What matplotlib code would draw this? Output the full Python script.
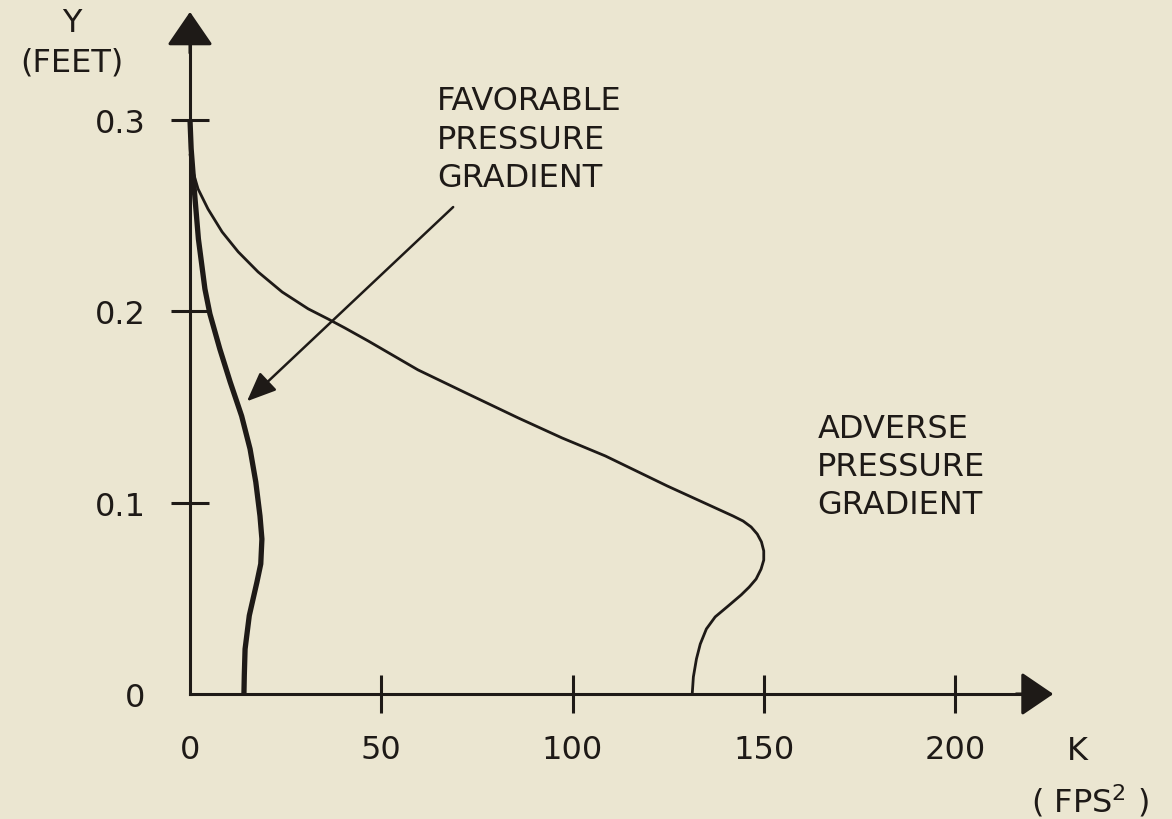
import matplotlib.pyplot as plt

# K (ft/s^2) against height above the wall Y (ft)
y_fav = [0.300, 0.285, 0.264, 0.2378, 0.2117, 0.1987, 0.1803, 0.1631, 0.1453,
         0.1281, 0.1108, 0.093, 0.081, 0.068, 0.0585, 0.041, 0.0235, 0.010, 0.0]
k_fav = [0.0, 0.3, 1.1, 2.2, 3.9, 5.2, 7.8, 10.5, 13.5,
         15.7, 17.2, 18.3, 18.8, 18.5, 17.5, 15.5, 14.4, 14.2, 14.1]

y_adv = [0.282, 0.2729, 0.264, 0.2535, 0.2415, 0.2311, 0.2206, 0.2101, 0.2013,
         0.196, 0.1913, 0.1845, 0.1694, 0.1568, 0.1443, 0.1338, 0.1244, 0.1087,
         0.0930, 0.0904, 0.0873, 0.0836, 0.0795, 0.0748, 0.0700, 0.0653, 0.0601,
         0.0559, 0.0518, 0.046, 0.0403, 0.034, 0.0261, 0.0183, 0.0089, 0.0]
k_adv = [0.0, 0.8, 2.1, 4.7, 8.4, 12.6, 17.8, 24.1, 30.9,
         36.1, 40.5, 46.6, 59.6, 72.7, 85.8, 97.3, 108.6, 124.8,
         142.0, 144.6, 146.7, 148.3, 149.4, 150.0, 150.0, 149.3, 148.0,
         146.2, 144.1, 140.7, 137.3, 135.0, 133.4, 132.4, 131.6, 131.3]

x_ticks = [0, 50, 100, 150, 200]
x_ticklabels = ["0", "50", "100", "150", "200"]
y_ticks = [0, 0.1, 0.2, 0.3]
y_ticklabels = ["0", "0.1", "0.2", "0.3"]

paper = "#ebe6d1"
ink = "#1e1a17"
plt.rcParams["font.family"] = ["DejaVu Sans"]

fig = plt.figure(figsize=(11.72, 8.2), dpi=100, facecolor=paper)
ax = fig.add_axes([190 / 1172, 125 / 820, 765 / 1172, 574 / 820])
ax.set_facecolor(paper)
ax.set_xlim(0, 200)
ax.set_ylim(0, 0.3)

# axes drawn as crossing lines through the origin
for side in ["top", "right"]:
    ax.spines[side].set_visible(False)
ax.spines["left"].set_position(("data", 0))
ax.spines["bottom"].set_position(("data", 0))
ax.spines["left"].set_bounds(0, 0.34)
ax.spines["bottom"].set_bounds(0, 218)
for side in ["left", "bottom"]:
    ax.spines[side].set_color(ink)
    ax.spines[side].set_linewidth(2.2)
    ax.spines[side].set_clip_on(False)

ax.set_xticks(x_ticks, x_ticklabels)
ax.set_yticks(y_ticks, y_ticklabels)
ax.tick_params(direction="inout", length=28, width=2.2, color=ink,
               labelcolor=ink, labelsize=23)
ax.tick_params(axis="x", pad=15)
ax.tick_params(axis="y", pad=18)
# no tick marks at the origin
ax.xaxis.get_major_ticks()[0].tick1line.set_visible(False)
ax.yaxis.get_major_ticks()[0].tick1line.set_visible(False)

# arrow heads on both axes
ax.annotate("", xy=(0, 0.3565), xytext=(0, 0.335),
            arrowprops=dict(arrowstyle="-|>,head_length=1.05,head_width=0.72",
                            mutation_scale=20, lw=2.2, color=ink,
                            shrinkA=0, shrinkB=0), annotation_clip=False)
ax.annotate("", xy=(225.7, 0), xytext=(216, 0),
            arrowprops=dict(arrowstyle="-|>,head_length=1.0,head_width=0.68",
                            mutation_scale=20, lw=2.2, color=ink,
                            shrinkA=0, shrinkB=0), annotation_clip=False)

ax.plot(k_adv, y_adv, color=ink, lw=2.0, solid_joinstyle="round",
        solid_capstyle="round", clip_on=False)
ax.plot(k_fav, y_fav, color=ink, lw=3.8, solid_joinstyle="round",
        solid_capstyle="butt", clip_on=False)

# axis titles
ax.text(-30.9, 0.3508, "Y", fontsize=23, color=ink, ha="center", va="center")
ax.text(-30.9, 0.3304, "(FEET)", fontsize=23, color=ink, ha="center", va="center")
ax.text(232, -0.0295, "K", fontsize=23, color=ink, ha="center", va="center")
ax.text(235.2, -0.0555, "( FPS$^{2}$ )", fontsize=23, color=ink,
        ha="center", va="center")

ax.text(64.6, 0.290, "FAVORABLE\nPRESSURE\nGRADIENT", fontsize=23, color=ink,
        ha="left", va="center", linespacing=1.3)
ax.text(164, 0.119, "ADVERSE\nPRESSURE\nGRADIENT", fontsize=23, color=ink,
        ha="left", va="center", linespacing=1.3)

ax.annotate("", xy=(14.9, 0.153), xytext=(68.8, 0.2545),
            arrowprops=dict(arrowstyle="-|>,head_length=0.9,head_width=0.38",
                            mutation_scale=20, lw=1.8, color=ink,
                            shrinkA=0, shrinkB=0))

fig.savefig("out.png", dpi=100, facecolor=paper)
